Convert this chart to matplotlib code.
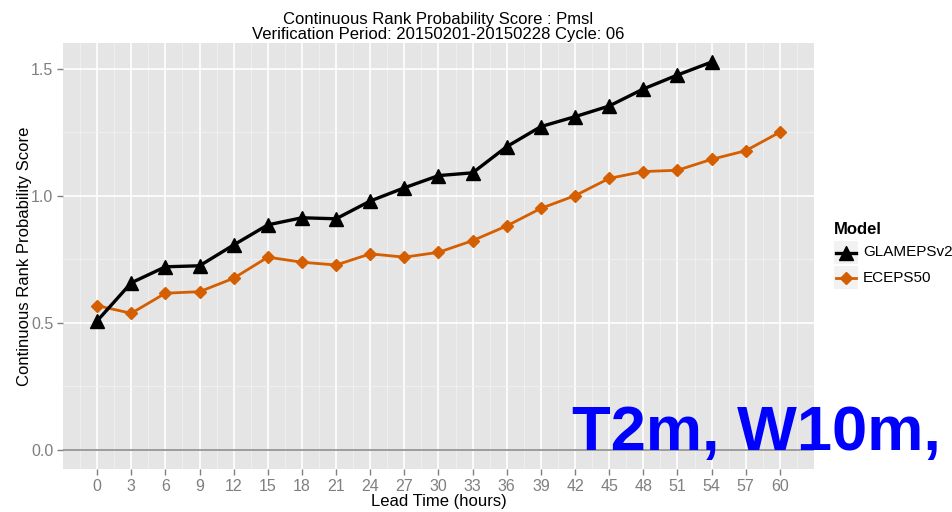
import matplotlib
matplotlib.use("Agg")
import matplotlib.pyplot as plt
from matplotlib.lines import Line2D
from matplotlib.patches import Rectangle

plt.rcParams['font.family'] = ['Liberation Sans', 'DejaVu Sans']

lead_time = [0, 3, 6, 9, 12, 15, 18, 21, 24, 27, 30, 33, 36, 39, 42, 45, 48, 51, 54, 57, 60]
glameps = [0.508, 0.658, 0.721, 0.725, 0.807, 0.886, 0.914, 0.910, 0.980, 1.032,
           1.080, 1.091, 1.194, 1.273, 1.312, 1.354, 1.421, 1.476, 1.527]
eceps = [0.568, 0.538, 0.617, 0.623, 0.676, 0.759, 0.739, 0.728, 0.772, 0.759,
         0.778, 0.824, 0.882, 0.951, 1.001, 1.069, 1.096, 1.101, 1.144, 1.178, 1.251]
y_ticks = [0.0, 0.5, 1.0, 1.5]
models = ['GLAMEPSv2', 'ECEPS50']

W, H = 953, 512
fig = plt.figure(figsize=(W / 100, H / 100), dpi=100)
ax = fig.add_axes([63 / W, 1 - 469 / H, 751 / W, 426 / H])
ax.set_facecolor('#E5E5E5')

ax.set_xlim(-3, 63)
ax.set_ylim(-0.075, 1.602)
ax.set_xticks(lead_time)
ax.set_xticks([x + 1.5 for x in [-3] + lead_time], minor=True)
ax.set_yticks(y_ticks)
ax.set_yticks([0.25, 0.75, 1.25], minor=True)
ax.grid(which='major', color='white', lw=1.2)
ax.grid(which='minor', color='#F2F2F2', lw=0.6)
ax.set_axisbelow(True)
for s in ax.spines.values():
    s.set_visible(False)
ax.tick_params(which='major', length=4, width=1, color='#7F7F7F', labelcolor='#7F7F7F',
               labelsize=11.5, pad=3)
ax.tick_params(which='minor', length=0)
ax.set_yticklabels(['%.1f' % v for v in y_ticks])

ax.axhline(0, color='#8C8C8C', lw=1.2, zorder=2)

orange = '#D55E00'
styles = [dict(color='black', lw=2.4, marker='^', ms=10),
          dict(color=orange, lw=2, marker='D', ms=6)]
ax.plot(lead_time, eceps, zorder=3, **styles[1])
ax.plot(lead_time[:len(glameps)], glameps, zorder=4, **styles[0])

ax.set_xlabel('Lead Time (hours)', fontsize=12, labelpad=0)
ax.set_ylabel('Continuous Rank Probability Score', fontsize=12, labelpad=-1)
ax.set_title('Continuous Rank Probability Score : Pmsl\n'
             'Verification Period: 20150201-20150228 Cycle: 06',
             fontsize=12, linespacing=1.0, pad=3)

# legend: title, grey key boxes, keys and labels
fig.text(834 / W, 1 - 230 / H, 'Model', fontsize=12, fontweight='bold', va='center')
for i, name in enumerate(models):
    top = 241 + 25 * i
    mid = top + 11.5
    fig.patches.append(Rectangle((834 / W, 1 - (top + 23) / H), 24 / W, 23 / H,
                                 transform=fig.transFigure, facecolor='#F2F2F2',
                                 edgecolor='none'))
    fig.add_artist(Line2D([836 / W, 846 / W, 856 / W], [1 - mid / H] * 3,
                          transform=fig.transFigure, markevery=[1], **styles[i]))
    fig.text(863 / W, 1 - mid / H, name, fontsize=11, va='center')

fig.text(572 / W, 1 - 450 / H, 'T2m, W10m,', color='#0000FF', fontsize=45.5,
         fontweight='bold', ha='left', va='baseline')

fig.savefig('out.png', dpi=100)
